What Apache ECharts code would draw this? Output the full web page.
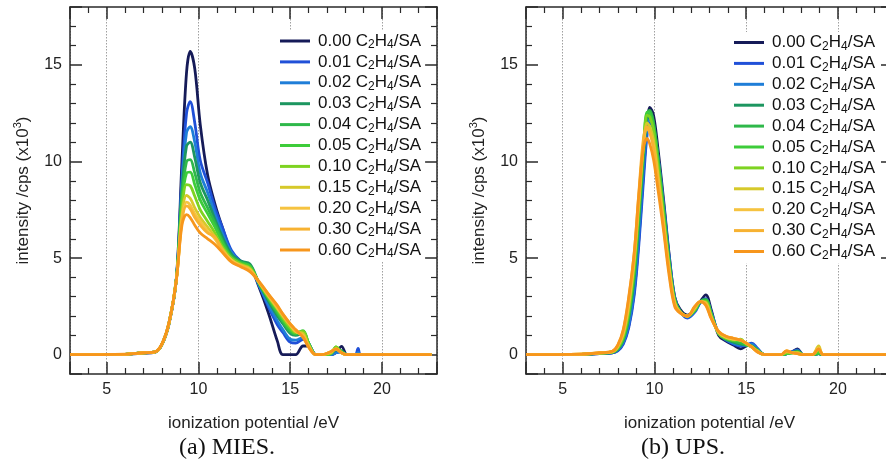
<!DOCTYPE html>
<html><head><meta charset="utf-8">
<script src="https://cdn.jsdelivr.net/npm/echarts@6/dist/echarts.min.js"></script>
<style>html,body{margin:0;padding:0;background:#fff}#c{width:886px;height:470px}</style>
</head><body><div id="c"></div>
<script>
// ---------- DATA ----------
const ratios = ['0.00','0.01','0.02','0.03','0.04','0.05','0.10','0.15','0.20','0.30','0.60'];
const seriesNames = ratios.map(r => r + ' C₂H₄/SA');
const colors = ['#161b58','#2050d8','#1f7ed8','#1d9660','#2fb84a','#3dcc3a','#7ed321','#d6c92a','#f6c340','#f7b232','#f7961c'];

// MIES energies (eV)
const miesX = [3, 6, 7, 7.6, 8.0, 8.4, 8.8, 9.1, 9.35, 9.55, 9.8, 10.1, 10.5, 10.9, 11.3, 11.8, 12.3, 12.8, 13.3, 13.8, 14.3, 14.6, 15.0, 15.3, 15.7, 16.0, 16.4, 16.7, 17.2, 17.5, 17.8, 18.1, 18.55, 18.7, 18.85, 22.7];
const mies000 = [0,0.02,0.08,0.12,0.5,1.6,4.0,10.0,14.6,15.7,14.8,11.9,9.3,7.8,6.6,5.3,4.85,4.6,3.5,2.2,0.7,0,0,0,0.45,0.45,0,0,0,0.1,0.43,0,0,0,0,0];
const mies001 = [0,0.02,0.1,0.13,0.52,1.65,3.95,9.2,12.5,13.1,12.0,10.05,8.9,7.6,6.6,5.4,4.85,4.6,3.6,2.5,1.55,1.15,0.65,0.6,0.8,0.55,0,0,0,0.1,0.15,0,0,0.32,0,0];
const mies002 = [0,0.02,0.1,0.13,0.52,1.65,3.95,8.8,11.5,11.8,11.0,9.4,8.4,7.3,6.3,5.3,4.8,4.65,3.6,2.6,1.75,1.3,0.8,0.75,0.9,0.6,0,0,0,0.1,0.15,0,0,0.1,0,0];
const mies003 = [0,0.02,0.1,0.13,0.52,1.65,3.95,8.5,10.8,11.0,10.2,8.9,8.0,7.0,6.1,5.2,4.85,4.7,3.7,2.8,2.0,1.6,1.1,1.0,1.1,0.6,0,0,0.05,0.25,0.2,0,0,0,0,0];
const mies004 = [0,0.02,0.1,0.13,0.52,1.65,3.95,8.2,10.0,10.1,9.4,8.4,7.6,6.8,5.9,5.1,4.8,4.6,3.7,2.9,2.15,1.7,1.2,1.05,1.2,0.6,0,0,0.05,0.35,0.15,0,0,0,0,0];
const mies005 = [0,0.02,0.1,0.13,0.52,1.65,3.95,7.9,9.4,9.45,8.8,8.0,7.3,6.6,5.8,5.0,4.75,4.6,3.7,2.95,2.25,1.8,1.3,1.1,1.25,0.6,0,0,0.05,0.4,0.15,0,0,0,0,0];
const mies010 = [0,0.02,0.1,0.13,0.52,1.65,3.95,7.5,8.8,8.75,8.2,7.5,6.9,6.3,5.6,5.0,4.7,4.5,3.75,3.0,2.35,1.9,1.4,1.15,1.2,0.55,0,0,0.05,0.4,0.1,0,0,0,0,0];
const mies015 = [0,0.02,0.1,0.13,0.52,1.65,3.9,7.2,8.25,8.1,7.6,7.1,6.6,6.1,5.5,4.9,4.65,4.45,3.75,3.05,2.4,2.0,1.5,1.2,1.1,0.5,0,0,0.1,0.3,0.1,0,0,0,0,0];
const mies020 = [0,0.02,0.1,0.13,0.52,1.65,3.9,7.0,7.9,7.75,7.3,6.9,6.4,6.0,5.4,4.9,4.6,4.4,3.75,3.1,2.45,2.05,1.55,1.2,1.0,0.45,0,0,0.15,0.3,0.1,0,0,0,0,0];
const mies030 = [0,0.02,0.1,0.13,0.52,1.65,3.9,6.9,7.7,7.55,7.1,6.7,6.3,6.1,5.4,4.8,4.6,4.35,3.75,3.15,2.5,2.1,1.6,1.25,0.95,0.4,0,0,0.15,0.3,0.1,0,0,0,0,0];
const mies060 = [0,0.03,0.1,0.14,0.55,1.7,3.9,6.7,7.25,7.1,6.7,6.3,6.0,5.7,5.3,4.8,4.55,4.3,3.8,3.15,2.55,2.1,1.6,1.3,0.9,0.4,0,0,0.15,0.3,0.1,0,0,0,0,0];

// UPS energies (eV)
const upsX = [3, 6, 7, 7.7, 8.0, 8.3, 8.6, 8.9, 9.15, 9.4, 9.6, 9.75, 9.95, 10.2, 10.5, 10.8, 11.1, 11.4, 11.8, 12.2, 12.5, 12.8, 13.1, 13.5, 13.9, 14.3, 14.7, 15.0, 15.3, 15.6, 16.0, 16.9, 17.2, 17.5, 17.8, 18.1, 18.6, 18.95, 19.2, 23];
const ups000 = [0,0.02,0.06,0.1,0.22,0.6,1.5,3.3,6.0,9.4,11.8,12.8,12.4,10.6,8.0,5.2,3.0,2.35,2.05,2.3,2.75,3.1,2.3,1.0,0.7,0.5,0.3,0.45,0.5,0.3,0,0,0.05,0.15,0.3,0,0,0.05,0,0];
const ups001 = [0,0.02,0.06,0.1,0.2,0.55,1.4,3.1,5.7,9.0,11.4,12.0,11.7,10.2,7.8,5.1,3.0,2.25,1.9,2.2,2.7,2.9,2.2,1.1,0.75,0.55,0.45,0.5,0.6,0.35,0,0,0.05,0.15,0.25,0,0,0.05,0,0];
const ups002 = [0,0.02,0.07,0.11,0.25,0.65,1.6,3.5,6.3,9.7,11.8,12.2,11.8,10.2,7.7,5.0,2.9,2.25,1.95,2.25,2.7,2.85,2.15,1.1,0.8,0.6,0.5,0.5,0.55,0.3,0,0,0.05,0.15,0.2,0,0,0.05,0,0];
const ups003 = [0,0.02,0.07,0.12,0.28,0.75,1.9,4.0,6.9,10.2,12.3,12.55,12.0,10.2,7.6,4.9,2.9,2.25,2.0,2.3,2.75,2.85,2.1,1.1,0.8,0.65,0.55,0.5,0.45,0.25,0,0,0.05,0.1,0.2,0,0,0.05,0,0];
const ups004 = [0,0.02,0.07,0.12,0.3,0.8,2.0,4.2,7.2,10.5,12.5,12.65,12.0,10.1,7.5,4.8,2.85,2.25,2.0,2.3,2.75,2.85,2.1,1.1,0.8,0.7,0.6,0.5,0.45,0.25,0,0,0.05,0.1,0.15,0,0,0.05,0,0];
const ups005 = [0,0.02,0.08,0.13,0.32,0.85,2.1,4.4,7.4,10.7,12.55,12.5,11.8,9.9,7.3,4.7,2.8,2.2,2.0,2.3,2.75,2.8,2.05,1.1,0.85,0.75,0.7,0.55,0.4,0.2,0,0,0.05,0.1,0.15,0,0,0.1,0,0];
const ups010 = [0,0.02,0.08,0.14,0.35,0.95,2.3,4.7,7.7,10.8,12.4,12.3,11.6,9.7,7.1,4.6,2.75,2.2,2.0,2.35,2.75,2.75,2.0,1.1,0.85,0.75,0.8,0.55,0.4,0.2,0,0,0.1,0.1,0.1,0,0,0.2,0,0];
const ups015 = [0,0.03,0.09,0.15,0.4,1.05,2.5,4.9,7.9,10.8,12.0,11.8,11.1,9.3,6.9,4.5,2.7,2.2,2.0,2.4,2.75,2.7,1.95,1.15,0.9,0.8,0.75,0.6,0.4,0.2,0,0,0.15,0.1,0.1,0,0,0.45,0,0];
const ups020 = [0,0.03,0.09,0.16,0.45,1.15,2.7,5.1,8.1,10.9,11.7,11.5,10.8,9.0,6.7,4.4,2.65,2.2,2.0,2.45,2.75,2.65,1.9,1.15,0.9,0.8,0.75,0.6,0.4,0.15,0,0,0.2,0.1,0.05,0,0,0.35,0,0];
const ups030 = [0,0.03,0.1,0.17,0.48,1.25,2.9,5.3,8.4,11.2,11.8,11.5,10.7,8.9,6.6,4.3,2.6,2.2,2.0,2.5,2.75,2.6,1.9,1.2,0.95,0.85,0.75,0.6,0.4,0.15,0,0,0.2,0.1,0.05,0,0,0.3,0,0];
const ups060 = [0,0.03,0.1,0.18,0.5,1.3,3.0,5.3,8.3,10.7,11.2,10.9,10.1,8.5,6.4,4.1,2.5,2.15,2.0,2.5,2.75,2.55,1.85,1.2,0.95,0.85,0.75,0.6,0.4,0.15,0,0,0.2,0.1,0.05,0,0,0.3,0,0];

const miesY = [mies000,mies001,mies002,mies003,mies004,mies005,mies010,mies015,mies020,mies030,mies060];
const upsY = [ups000,ups001,ups002,ups003,ups004,ups005,ups010,ups015,ups020,ups030,ups060];

const xTickLabels = [5, 10, 15, 20];
const yTickLabels = [0, 5, 10, 15];

// ---------- CHART ----------
const FONT = 'Liberation Sans';
const AX = '#2a2a2a';
const chart = echarts.init(document.getElementById('c'), null, {renderer: 'canvas'});

function xAx(grid, pos, main) {
  return {
    type: 'value', gridIndex: grid, position: pos, min: 3, max: 23, splitNumber: 4,
    axisLine: {show: true, onZero: false, lineStyle: {color: AX, width: 1.5}},
    axisTick: {show: true, inside: true, length: 12, lineStyle: {color: AX, width: 1.5}},
    minorTick: {show: true, splitNumber: 5, length: 6, lineStyle: {color: AX, width: 1.2}},
    axisLabel: {show: main, margin: 8, fontSize: 16, color: '#222', fontFamily: FONT,
      formatter: v => xTickLabels.includes(v) ? String(v) : ''},
    splitLine: {show: main, lineStyle: {color: '#a0a0a0', type: [1.5, 1.5], width: 1}},
    name: main ? 'ionization potential /eV' : '', nameLocation: 'middle', nameGap: 41,
    nameTextStyle: {fontSize: 17, color: '#222', fontFamily: FONT}
  };
}
function yAx(grid, pos, main) {
  return {
    type: 'value', gridIndex: grid, position: pos, min: -1, max: 18, splitNumber: 4,
    axisLine: {show: true, onZero: false, lineStyle: {color: AX, width: 1.5}},
    axisTick: {show: true, inside: true, length: 12, lineStyle: {color: AX, width: 1.5}},
    minorTick: {show: true, splitNumber: 5, length: 6, lineStyle: {color: AX, width: 1.2}},
    axisLabel: {show: main, margin: 8, fontSize: 16, color: '#222', fontFamily: FONT,
      formatter: v => yTickLabels.includes(v) ? String(v) : ''},
    splitLine: {show: false},
    name: main ? '{a|intensity /cps (x10}{s|3}{a|)}' : '', nameLocation: 'middle', nameGap: 36, nameRotate: 90,
    nameTextStyle: {fontFamily: FONT, color: '#222', rich: {
      a: {fontSize: 17, lineHeight: 22, fontFamily: FONT, color: '#222'},
      s: {fontSize: 11, lineHeight: 10, verticalAlign: 'top', fontFamily: FONT, color: '#222'}
    }}
  };
}

const legendRich = {
  f: {fontSize: 17, lineHeight: 20, fontFamily: FONT, color: '#111', padding: [0, 0, 0, 3]},
  t: {fontSize: 17, lineHeight: 20, fontFamily: FONT, color: '#111'},
  b: {fontSize: 12, lineHeight: 10, verticalAlign: 'bottom', fontFamily: FONT, color: '#111'}
};
function legendFmt(name) {
  const r = name.split(' ')[0];
  return '{f|' + r + ' C}{b|2}{t|H}{b|4}{t|/SA}';
}
function legend(left, top) {
  return {
    data: seriesNames, orient: 'vertical', left: left, top: top,
    icon: 'rect', itemWidth: 30, itemHeight: 3, itemGap: 2.4,
    backgroundColor: '#fff', padding: [2, 4, 2, 4],
    selectedMode: false, formatter: legendFmt,
    textStyle: {rich: legendRich, fontFamily: FONT}
  };
}

const series = [];
[[miesX, miesY, 0], [upsX, upsY, 2]].forEach(([xs, ys, ai]) => {
  ys.forEach((vals, k) => {
    series.push({
      name: seriesNames[k], type: 'line', xAxisIndex: ai, yAxisIndex: ai,
      data: xs.map((x, j) => [x, vals[j]]),
      smooth: 0.35, symbol: 'none', showSymbol: false,
      lineStyle: {width: 2.8, color: colors[k]}, itemStyle: {color: colors[k]},
      emphasis: {disabled: true}, animation: false
    });
  });
});

chart.setOption({
  animation: false,
  backgroundColor: '#fff',
  grid: [
    {left: 70, top: 7, width: 367, height: 367, containLabel: false, outerBoundsMode: 'none'},
    {left: 526, top: 7, width: 367, height: 367, containLabel: false, outerBoundsMode: 'none'}
  ],
  xAxis: [xAx(0, 'bottom', true), xAx(0, 'top', false), xAx(1, 'bottom', true), xAx(1, 'top', false)],
  yAxis: [yAx(0, 'left', true), yAx(0, 'right', false), yAx(1, 'left', true), yAx(1, 'right', false)],
  legend: [legend(276, 30.5), legend(730, 32)],
  graphic: [
    {type: 'text', x: 227, y: 448, style: {text: '(a) MIES.', font: '24px "Liberation Serif"', fill: '#111', align: 'center', verticalAlign: 'middle'}},
    {type: 'text', x: 683, y: 448, style: {text: '(b) UPS.', font: '24px "Liberation Serif"', fill: '#111', align: 'center', verticalAlign: 'middle'}}
  ],
  series: series
});
</script></body></html>
